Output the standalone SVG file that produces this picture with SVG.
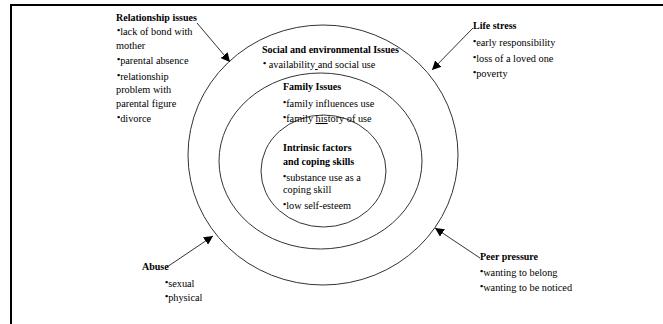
<svg xmlns="http://www.w3.org/2000/svg" width="663" height="324" viewBox="0 0 663 324">
<style>
text{font-family:"Liberation Serif","Times New Roman","DejaVu Serif",serif;font-size:10.3px;fill:#000}
.t{font-weight:bold;font-size:10px}
.b{font-size:9px;baseline-shift:2.5px;font-weight:bold}
.ring{fill:none;stroke:#333;stroke-width:1}
.con{stroke:#333;stroke-width:1;fill:none;marker-end:url(#ah)}
.frame{stroke:#000;stroke-width:2;fill:none}
</style>
<defs>
<marker id="ah" viewBox="0 0 10 10" refX="10" refY="5" markerWidth="9" markerHeight="9" markerUnits="userSpaceOnUse" orient="auto">
<path d="M0,0 L10,5 L0,10 z" fill="#000"/>
</marker>
</defs>
<rect width="663" height="324" fill="#fff"/>
<path class="frame" d="M11,324 V5 H663"/>
<g id="rings">
<ellipse id="outer" class="ring" cx="323" cy="155" rx="135" ry="130"/>
<ellipse id="middle" class="ring" cx="320.5" cy="161" rx="101.5" ry="88"/>
<ellipse id="inner" class="ring" cx="323.5" cy="171" rx="62.5" ry="56"/>
</g>
<g id="connectors">
<line class="con" x1="197" y1="23" x2="230" y2="62"/>
<line class="con" x1="473" y1="28" x2="432" y2="70"/>
<line class="con" x1="167" y1="267" x2="213" y2="236"/>
<line class="con" x1="480" y1="258" x2="435" y2="228"/>
</g>
<g id="relationship">
<text class="t" x="116" y="21">Relationship issues</text>
<text x="117" y="35"><tspan class="b">•</tspan>lack of bond with</text>
<text x="116" y="49">mother</text>
<text x="117" y="64"><tspan class="b">•</tspan>parental absence</text>
<text x="117" y="80"><tspan class="b">•</tspan>relationship</text>
<text x="116" y="93">problem with</text>
<text x="116" y="107">parental figure</text>
<text x="117" y="122"><tspan class="b">•</tspan>divorce</text>
</g>
<g id="life">
<text class="t" x="473" y="29">Life stress</text>
<text x="473" y="46"><tspan class="b">•</tspan>early responsibility</text>
<text x="473" y="62"><tspan class="b">•</tspan>loss of a loved one</text>
<text x="473" y="77"><tspan class="b">•</tspan>poverty</text>
</g>
<g id="social">
<text class="t" x="262" y="53">Social and environmental Issues</text>
<text x="263" y="68"><tspan class="b">•</tspan> availability<tspan text-decoration="underline"> </tspan>and social use</text>
</g>
<g id="family">
<text class="t" x="283" y="90">Family Issues</text>
<text x="283" y="107"><tspan class="b">•</tspan>family influences use</text>
<text x="283" y="122"><tspan class="b">•</tspan>family <tspan text-decoration="underline">his</tspan>tory of use</text>
</g>
<g id="intrinsic">
<text class="t" x="283" y="151">Intrinsic factors</text>
<text class="t" x="283" y="165">and coping skills</text>
<text x="283" y="181"><tspan class="b">•</tspan>substance use as a</text>
<text x="283" y="193">coping skill</text>
<text x="283" y="209"><tspan class="b">•</tspan>low self-esteem</text>
</g>
<g id="abuse">
<text class="t" x="142" y="270">Abuse</text>
<text x="165" y="287"><tspan class="b">•</tspan>sexual</text>
<text x="165" y="301"><tspan class="b">•</tspan>physical</text>
</g>
<g id="peer">
<text class="t" x="480" y="260">Peer pressure</text>
<text x="480" y="276"><tspan class="b">•</tspan>wanting to belong</text>
<text x="480" y="291"><tspan class="b">•</tspan>wanting to be noticed</text>
</g>
</svg>
